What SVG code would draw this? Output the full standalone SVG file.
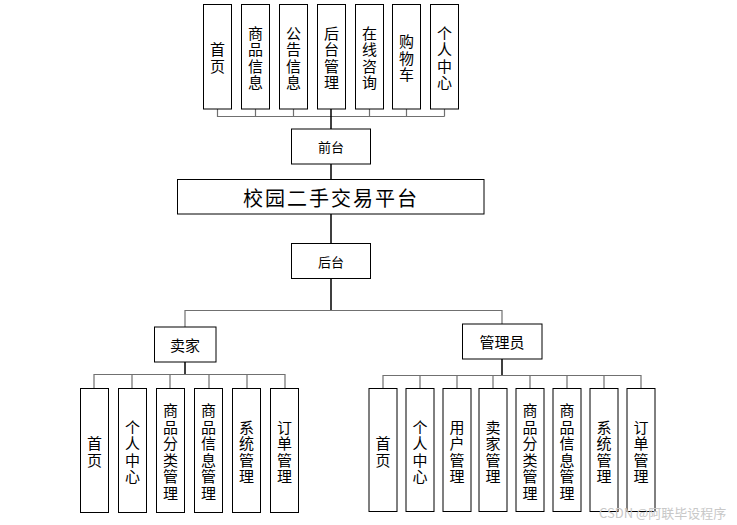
<svg xmlns="http://www.w3.org/2000/svg" width="737" height="525" viewBox="0 0 737 525">
<style>
.box{fill:#fff;stroke:#000;stroke-width:1}
.bus{fill:none;stroke:#707070;stroke-width:1.2}
.stem{fill:none;stroke:#000;stroke-width:1.5}
text{font-family:"Noto Sans CJK SC","Liberation Sans",sans-serif;fill:#000;text-anchor:middle;dominant-baseline:central}
.v{font-size:15px}
.s{font-size:13px}
.m{font-size:15px}
.t{font-size:20px;letter-spacing:2px}
.wm{font-size:13px;fill:#c8c8c8;text-anchor:start}
</style>
<rect width="737" height="525" fill="#fff"/>
<g id="connectors">
<path class="bus" d="M217.5 109V116.5H444.5M255.5 109V116.5M293.5 109V116.5M369.5 109V116.5M406.5 109V116.5M444.5 109V116.5"/>
<path class="stem" d="M331 109V129M331 164V179M331 214V243M331 278V310.5"/>
<path class="bus" d="M185 327V310.5H502V324"/>
<path class="stem" d="M185 362V374.5M502 359V375.5"/>
<path class="bus" d="M94 388.5V374.5H285V388.5M132 374.5V388.5M170 374.5V388.5M209 374.5V388.5M247 374.5V388.5"/>
<path class="bus" d="M383 388.5V375.5H641V388.5M420 375.5V388.5M457 375.5V388.5M493 375.5V388.5M530 375.5V388.5M567 375.5V388.5M604 375.5V388.5"/>
</g>
<g id="top-shouye"><rect class="box" x="203.5" y="4.5" width="28" height="104.5"/><text class="v"><tspan x="217.5" y="48.25">首</tspan><tspan x="217.5" y="64.75">页</tspan></text></g>
<g id="top-shangpin"><rect class="box" x="241.5" y="4.5" width="28" height="104.5"/><text class="v"><tspan x="255.5" y="31.75">商</tspan><tspan x="255.5" y="48.25">品</tspan><tspan x="255.5" y="64.75">信</tspan><tspan x="255.5" y="81.25">息</tspan></text></g>
<g id="top-gonggao"><rect class="box" x="279.5" y="4.5" width="28" height="104.5"/><text class="v"><tspan x="293.5" y="31.75">公</tspan><tspan x="293.5" y="48.25">告</tspan><tspan x="293.5" y="64.75">信</tspan><tspan x="293.5" y="81.25">息</tspan></text></g>
<g id="top-houtai"><rect class="box" x="317.5" y="4.5" width="28" height="104.5"/><text class="v"><tspan x="331.5" y="31.75">后</tspan><tspan x="331.5" y="48.25">台</tspan><tspan x="331.5" y="64.75">管</tspan><tspan x="331.5" y="81.25">理</tspan></text></g>
<g id="top-zixun"><rect class="box" x="355.5" y="4.5" width="28" height="104.5"/><text class="v"><tspan x="369.5" y="31.75">在</tspan><tspan x="369.5" y="48.25">线</tspan><tspan x="369.5" y="64.75">咨</tspan><tspan x="369.5" y="81.25">询</tspan></text></g>
<g id="top-gouwuche"><rect class="box" x="392.5" y="4.5" width="28" height="104.5"/><text class="v"><tspan x="406.5" y="40">购</tspan><tspan x="406.5" y="56.5">物</tspan><tspan x="406.5" y="73">车</tspan></text></g>
<g id="top-geren"><rect class="box" x="430.5" y="4.5" width="28" height="104.5"/><text class="v"><tspan x="444.5" y="31.75">个</tspan><tspan x="444.5" y="48.25">人</tspan><tspan x="444.5" y="64.75">中</tspan><tspan x="444.5" y="81.25">心</tspan></text></g>
<g id="qiantai"><rect class="box" x="291.5" y="129" width="79" height="35"/><text class="s" x="331" y="146.5">前台</text></g>
<g id="platform"><rect class="box" x="177.5" y="179.5" width="306.5" height="34.5"/><text class="t" x="331" y="197">校园二手交易平台</text></g>
<g id="houtai"><rect class="box" x="291.5" y="243.5" width="79" height="35"/><text class="s" x="331" y="261">后台</text></g>
<g id="maijia"><rect class="box" x="154.5" y="327" width="61.5" height="35"/><text class="m" x="185" y="344.5">卖家</text></g>
<g id="guanliyuan"><rect class="box" x="462.5" y="324" width="79.5" height="35"/><text class="m" x="502" y="341.5">管理员</text></g>
<g id="s-shouye"><rect class="box" x="80.5" y="388.5" width="28" height="124"/><text class="v"><tspan x="94.5" y="442.25">首</tspan><tspan x="94.5" y="458.75">页</tspan></text></g>
<g id="s-geren"><rect class="box" x="118.5" y="388.5" width="28" height="124"/><text class="v"><tspan x="132.5" y="425.75">个</tspan><tspan x="132.5" y="442.25">人</tspan><tspan x="132.5" y="458.75">中</tspan><tspan x="132.5" y="475.25">心</tspan></text></g>
<g id="s-fenlei"><rect class="box" x="156.5" y="388.5" width="28" height="124"/><text class="v"><tspan x="170.5" y="409.25">商</tspan><tspan x="170.5" y="425.75">品</tspan><tspan x="170.5" y="442.25">分</tspan><tspan x="170.5" y="458.75">类</tspan><tspan x="170.5" y="475.25">管</tspan><tspan x="170.5" y="491.75">理</tspan></text></g>
<g id="s-xinxi"><rect class="box" x="194.5" y="388.5" width="28" height="124"/><text class="v"><tspan x="208.5" y="409.25">商</tspan><tspan x="208.5" y="425.75">品</tspan><tspan x="208.5" y="442.25">信</tspan><tspan x="208.5" y="458.75">息</tspan><tspan x="208.5" y="475.25">管</tspan><tspan x="208.5" y="491.75">理</tspan></text></g>
<g id="s-xitong"><rect class="box" x="232.5" y="388.5" width="28" height="124"/><text class="v"><tspan x="246.5" y="425.75">系</tspan><tspan x="246.5" y="442.25">统</tspan><tspan x="246.5" y="458.75">管</tspan><tspan x="246.5" y="475.25">理</tspan></text></g>
<g id="s-dingdan"><rect class="box" x="270.5" y="388.5" width="28" height="124"/><text class="v"><tspan x="284.5" y="425.75">订</tspan><tspan x="284.5" y="442.25">单</tspan><tspan x="284.5" y="458.75">管</tspan><tspan x="284.5" y="475.25">理</tspan></text></g>
<g id="a-shouye"><rect class="box" x="369" y="388.5" width="28" height="123"/><text class="v"><tspan x="383" y="442.25">首</tspan><tspan x="383" y="458.75">页</tspan></text></g>
<g id="a-geren"><rect class="box" x="406" y="388.5" width="28" height="123"/><text class="v"><tspan x="420" y="425.75">个</tspan><tspan x="420" y="442.25">人</tspan><tspan x="420" y="458.75">中</tspan><tspan x="420" y="475.25">心</tspan></text></g>
<g id="a-yonghu"><rect class="box" x="443" y="388.5" width="28" height="123"/><text class="v"><tspan x="457" y="425.75">用</tspan><tspan x="457" y="442.25">户</tspan><tspan x="457" y="458.75">管</tspan><tspan x="457" y="475.25">理</tspan></text></g>
<g id="a-maijia"><rect class="box" x="479" y="388.5" width="28" height="123"/><text class="v"><tspan x="493" y="425.75">卖</tspan><tspan x="493" y="442.25">家</tspan><tspan x="493" y="458.75">管</tspan><tspan x="493" y="475.25">理</tspan></text></g>
<g id="a-fenlei"><rect class="box" x="516" y="388.5" width="28" height="123"/><text class="v"><tspan x="530" y="409.25">商</tspan><tspan x="530" y="425.75">品</tspan><tspan x="530" y="442.25">分</tspan><tspan x="530" y="458.75">类</tspan><tspan x="530" y="475.25">管</tspan><tspan x="530" y="491.75">理</tspan></text></g>
<g id="a-xinxi"><rect class="box" x="553" y="388.5" width="28" height="123"/><text class="v"><tspan x="567" y="409.25">商</tspan><tspan x="567" y="425.75">品</tspan><tspan x="567" y="442.25">信</tspan><tspan x="567" y="458.75">息</tspan><tspan x="567" y="475.25">管</tspan><tspan x="567" y="491.75">理</tspan></text></g>
<g id="a-xitong"><rect class="box" x="590" y="388.5" width="28" height="123"/><text class="v"><tspan x="604" y="425.75">系</tspan><tspan x="604" y="442.25">统</tspan><tspan x="604" y="458.75">管</tspan><tspan x="604" y="475.25">理</tspan></text></g>
<g id="a-dingdan"><rect class="box" x="627" y="388.5" width="28" height="123"/><text class="v"><tspan x="641" y="425.75">订</tspan><tspan x="641" y="442.25">单</tspan><tspan x="641" y="458.75">管</tspan><tspan x="641" y="475.25">理</tspan></text></g>
<text class="wm" x="599" y="512">CSDN @阿联毕设程序</text>
</svg>
